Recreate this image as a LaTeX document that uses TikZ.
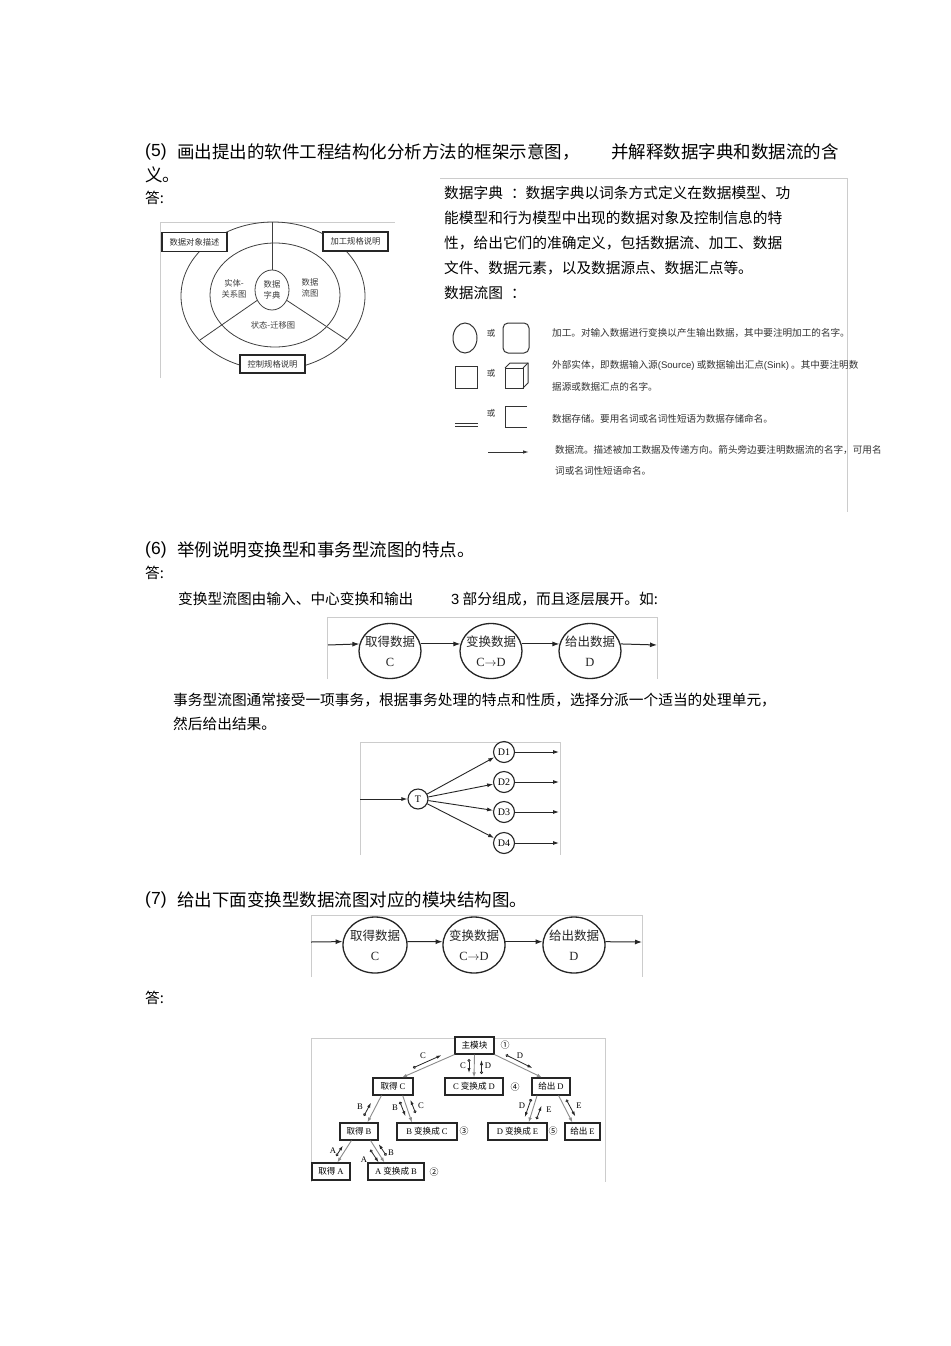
\documentclass[tikz,border=0pt]{standalone}
\usepackage{fontspec}
\setmainfont{Noto Sans CJK SC}
\newfontfamily\latf{Liberation Sans}
\newfontfamily\serf{Liberation Serif}
\usetikzlibrary{arrows.meta,calc,shapes.geometric}
\tikzset{
  every node/.style={inner sep=0pt},
  bigtxt/.style={anchor=west, font=\fontsize{17.5}{20}\selectfont},
  midtxt/.style={anchor=west, font=\fontsize{14.7}{17}\selectfont},
  legtxt/.style={anchor=west, font=\fontsize{9.6}{11}\selectfont, text=black!80},
  imgframe/.style={draw=black!20, line width=0.7pt},
  fwline/.style={draw=black!75, line width=0.8pt},
  fwbox/.style={draw=black!85, line width=1.1pt, fill=white, minimum width=65pt, minimum height=19pt, font=\fontsize{8.3}{10}\selectfont, text=black!80},
  fwtxt/.style={font=\fontsize{8.3}{10.5}\selectfont, text=black!75, align=center},
  legshape/.style={draw=black!80, line width=1pt},
  ortxt/.style={font=\fontsize{8.5}{10}\selectfont, text=black!80},
  flowc/.style={ellipse, draw=black!85, line width=1.3pt},
  flowtxt/.style={align=center, font=\fontsize{12.5}{20}\selectfont, text=black!85},
  flowarr/.style={draw=black!85, line width=1pt, -{Latex[length=7pt,width=5pt]}},
  tcirc/.style={circle, draw=black!85, line width=1.1pt, minimum size=21pt, font=\serf\fontsize{10}{12}\selectfont},
  tarr/.style={draw=black!85, line width=0.9pt, -{Latex[length=6pt,width=4pt]}},
  sbox/.style={draw=black!85, line width=1.1pt, fill=white, minimum height=17pt, font=\fontsize{8.6}{10}\selectfont},
  sline/.style={draw=black!45, line width=0.9pt, -{Latex[length=5pt,width=3.5pt]}},
  cpl/.style={draw=black!85, line width=0.8pt, {Circle[open,length=3pt,width=3pt]}-{Latex[length=5pt,width=3.2pt]}},
  clab/.style={font=\serf\fontsize{8.6}{10}\selectfont},
  cnum/.style={font=\fontsize{9}{10}\selectfont},
}
\begin{document}
\begin{tikzpicture}[x=1pt,y=-1pt]
\fill[white] (0,0) rectangle (950,1346);
\useasboundingbox (0,0) rectangle (950,1346);

% ---------- (5) ----------
\node[bigtxt, font=\latf\fontsize{17.5}{20}\selectfont] at (145,152) {(5)};
\node[bigtxt] at (177,152) {画出提出的软件工程结构化分析方法的框架示意图，};
\node[bigtxt] at (611,152) {并解释数据字典和数据流的含};
\node[bigtxt] at (145,175) {义。};
\node[midtxt] at (145,198) {答:};

% framework figure
\draw[imgframe] (160,378) -- (160,222) -- (395,222);
\draw[fwline] (273,296) ellipse [x radius=92pt, y radius=74pt];
\draw[fwline] (275,295) ellipse [x radius=65pt, y radius=52pt];
\node[ellipse, draw=black!75, line width=0.8pt, fill=white, minimum width=34pt, minimum height=40pt, fwtxt] (dd) at (272,290) {数据\\字典};
\coordinate (fwt) at (272,222);
\coordinate (fwl) at (200,340);
\coordinate (fwr) at (347,340);
\draw[fwline] (dd.north) -- (fwt);
\draw[fwline] (dd.215) -- (fwl);
\draw[fwline] (dd.-35) -- (fwr);
\node[fwtxt] (er) at (234,289) {实体-\\关系图};
\node[fwtxt] (dfd) at (310,288) {数据\\流图};
\node[fwtxt] (st) at (273,325) {状态-迁移图};
\node[fwbox] (b1) at (194.5,242) {数据对象描述};
\node[fwbox] (b2) at (355.5,241.5) {加工规格说明};
\node[fwbox, minimum height=18pt] (b3) at (272.5,364) {控制规格说明};

% right panel
\draw[imgframe] (440,178) -- (847,178) -- (847,512);
\node[midtxt] at (444,193) {数据字典\hspace{8pt}：数据字典以词条方式定义在数据模型、功};
\node[midtxt] at (444,218) {能模型和行为模型中出现的数据对象及控制信息的特};
\node[midtxt] at (444,243) {性，给出它们的准确定义，包括数据流、加工、数据};
\node[midtxt] at (444,268) {文件、数据元素，以及数据源点、数据汇点等。};
\node[midtxt] at (444,293) {数据流图\hspace{8pt}：};

% legend
\draw[legshape] (465,338) ellipse [x radius=12pt, y radius=15pt];
\node[ortxt] at (491,333) {或};
\draw[legshape, rounded corners=5pt] (503,323) rectangle (529,353);
\draw[legshape] (455,366) rectangle (477,388);
\node[ortxt] at (491,373) {或};
\draw[legshape] (505,368) rectangle (523,388);
\draw[legshape] (505,368) -- (510,363) -- (528,363) -- (528,383) -- (523,388);
\draw[legshape] (523,368) -- (528,363);
\draw[legshape, line width=0.8pt] (455,423) -- (478,423);
\draw[legshape, line width=0.8pt] (455,426.5) -- (478,426.5);
\node[ortxt] at (491,413) {或};
\draw[legshape] (527,406) -- (505,406) -- (505,427) -- (527,427);
\draw[legshape, -{Latex[length=6pt,width=3.5pt]}] (488,452) -- (529,452);
\node[legtxt] at (552,333) {加工。对输入数据进行变换以产生输出数据，其中要注明加工的名字。};
\node[legtxt] at (552,365) {外部实体，即数据输入源{\latf(Source)} 或数据输出汇点{\latf(Sink)} 。其中要注明数};
\node[legtxt] at (552,387) {据源或数据汇点的名字。};
\node[legtxt] at (552,419) {数据存储。要用名词或名词性短语为数据存储命名。};
\node[legtxt] at (555,450) {数据流。描述被加工数据及传递方向。箭头旁边要注明数据流的名字，可用名};
\node[legtxt] at (555,471) {词或名词性短语命名。};

% ---------- (6) ----------
\node[bigtxt, font=\latf\fontsize{17.5}{20}\selectfont] at (145,550) {(6)};
\node[bigtxt] at (177,550) {举例说明变换型和事务型流图的特点。};
\node[midtxt] at (145,573) {答:};
\node[midtxt] at (178,599) {变换型流图由输入、中心变换和输出};
\node[midtxt] at (451,599) {{\latf 3} 部分组成，而且逐层展开。如:};

\draw[imgframe] (327,679) -- (327,617) -- (657,617) -- (657,679);
\node[flowc, minimum width=62pt, minimum height=55pt] (c1) at (390,651) {};
\node[flowc, minimum width=62pt, minimum height=55pt] (c2) at (491,651) {};
\node[flowc, minimum width=62pt, minimum height=55pt] (c3) at (590,651) {};
\node[flowtxt] at (c1) {取得数据\\{\serf C}};
\node[flowtxt] at (c2) {变换数据\\{\serf C$\rightarrow$D}};
\node[flowtxt] at (c3) {给出数据\\{\serf D}};
\coordinate (fin1) at (328,645);
\coordinate (fout1) at (657,645);
\draw[flowarr] (fin1) -- (c1.167);
\draw[flowarr] (c1.13) -- (c2.167);
\draw[flowarr] (c2.13) -- (c3.167);
\draw[flowarr] (c3.13) -- (fout1);

\node[midtxt] at (173,700) {事务型流图通常接受一项事务，根据事务处理的特点和性质，选择分派一个适当的处理单元，};
\node[midtxt] at (173,724) {然后给出结果。};

\draw[imgframe] (360,855) -- (360,742) -- (560,742) -- (560,855);
\node[tcirc, minimum size=20pt] (t) at (418,799) {T};
\node[tcirc] (d1) at (504,752) {D1};
\node[tcirc] (d2) at (504,782) {D2};
\node[tcirc] (d3) at (504,812) {D3};
\node[tcirc] (d4) at (504,843) {D4};
\coordinate (tin) at (360,799);
\coordinate (o1) at (559,752);
\coordinate (o2) at (559,782);
\coordinate (o3) at (559,812);
\coordinate (o4) at (559,843);
\draw[tarr] (tin) -- (t);
\draw[tarr] (t) -- (d1);
\draw[tarr] (t) -- (d2);
\draw[tarr] (t) -- (d3);
\draw[tarr] (t) -- (d4);
\draw[tarr] (d1) -- (o1);
\draw[tarr] (d2) -- (o2);
\draw[tarr] (d3) -- (o3);
\draw[tarr] (d4) -- (o4);

% ---------- (7) ----------
\node[bigtxt, font=\latf\fontsize{17.5}{20}\selectfont] at (145,900) {(7)};
\node[bigtxt] at (177,900) {给出下面变换型数据流图对应的模块结构图。};

\draw[imgframe] (311,977) -- (311,915) -- (642,915) -- (642,977);
\node[flowc, minimum width=64pt, minimum height=56pt] (c4) at (375,945) {};
\node[flowc, minimum width=62pt, minimum height=56pt] (c5) at (474,945) {};
\node[flowc, minimum width=62pt, minimum height=56pt] (c6) at (574,945) {};
\node[flowtxt] at (c4) {取得数据\\{\serf C}};
\node[flowtxt] at (c5) {变换数据\\{\serf C$\rightarrow$D}};
\node[flowtxt] at (c6) {给出数据\\{\serf D}};
\coordinate (fin2) at (311,942);
\coordinate (fout2) at (642,942);
\draw[flowarr] (fin2) -- (c4.174);
\draw[flowarr] (c4.6) -- (c5.174);
\draw[flowarr] (c5.6) -- (c6.174);
\draw[flowarr] (c6.6) -- (fout2);

\node[midtxt] at (145,998) {答:};

% structure chart
\draw[imgframe] (311,1182) -- (311,1038) -- (605,1038) -- (605,1182);
\node[sbox, minimum width=39pt] (m) at (474.5,1045.5) {主模块};
\node[sbox, minimum width=40pt] (gc) at (393,1086.5) {取得 {\serf C}};
\node[sbox, minimum width=58pt] (cd) at (474,1086.5) {{\serf C} 变换成 {\serf D}};
\node[sbox, minimum width=38pt] (gd) at (551,1086.5) {给出 {\serf D}};
\node[sbox, minimum width=38pt] (gb) at (359,1131.5) {取得 {\serf B}};
\node[sbox, minimum width=60pt] (bc) at (427,1131.5) {{\serf B} 变换成 {\serf C}};
\node[sbox, minimum width=59pt] (de) at (517.5,1131.5) {{\serf D} 变换成 {\serf E}};
\node[sbox, minimum width=35pt] (ge) at (582.5,1131.5) {给出 {\serf E}};
\node[sbox, minimum width=38pt] (ga) at (331,1171.5) {取得 {\serf A}};
\node[sbox, minimum width=56pt] (ab) at (396,1171.5) {{\serf A} 变换成 {\serf B}};
\node[cnum] at (505,1045) {①};
\node[cnum] at (515,1087) {④};
\node[cnum] at (464,1131) {③};
\node[cnum] at (553,1131) {⑤};
\node[cnum] at (434,1172) {②};

\draw[sline] (m.south west) -- (gc.45);
\draw[sline] (m.south) -- (cd.north);
\draw[sline] (m.south east) -- (gd.135);
\draw[sline] (gc.218) -- (gb.47);
\draw[sline] (gc.317) -- (bc.149);
\draw[sline] (gd.213) -- (de.39);
\draw[sline] (gd.310) -- (ge.138);
\draw[sline] (gb.230) -- (ga.55);
\draw[sline] (gb.322) -- (ab.142);

% data couples (circle = tail, arrow = direction of the data)
\draw[cpl] (413,1067.9) -- (441.4,1055.2);
\node[clab] at (423,1056) {C};
\draw[cpl] (469,1059) -- (469,1073);
\node[clab] at (463,1066) {C};
\draw[cpl] (481.5,1074) -- (481.5,1060);
\node[clab] at (488,1066) {D};
\draw[cpl] (505.7,1054.8) -- (532.4,1068);
\node[clab] at (520,1056) {D};
\draw[cpl] (363.9,1115.9) -- (371,1102.7);
\node[clab] at (360,1107) {B};
\draw[cpl] (399.8,1101.7) -- (405.5,1116.2);
\node[clab] at (395,1108) {B};
\draw[cpl] (415.5,1113) -- (410.4,1099.8);
\node[clab] at (421,1106) {C};
\draw[cpl] (531.2,1098.9) -- (524.8,1117.1);
\node[clab] at (522,1106) {D};
\draw[cpl] (536.5,1119.2) -- (541.5,1105.7);
\node[clab] at (549,1110) {E};
\draw[cpl] (566.3,1099.6) -- (575.3,1116.4);
\node[clab] at (579,1106) {E};
\draw[cpl] (336.2,1156) -- (342.9,1145.6);
\node[clab] at (333,1151) {A};
\draw[cpl] (370.3,1149.7) -- (378.6,1162.4);
\node[clab] at (364,1160) {A};
\draw[cpl] (386.3,1155.6) -- (378.7,1144.1);
\node[clab] at (391,1153) {B};
\end{tikzpicture}
\end{document}
